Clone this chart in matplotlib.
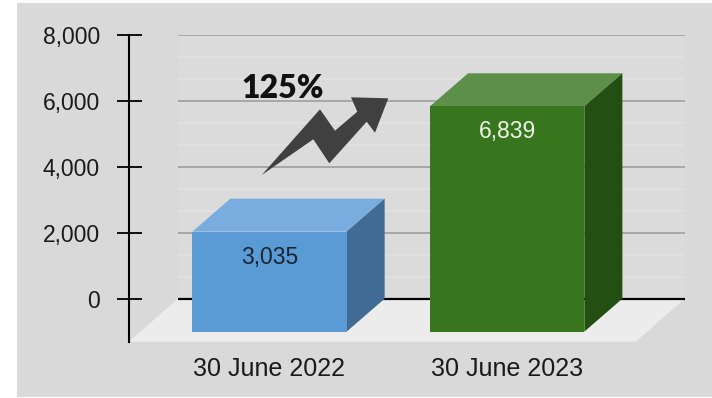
import numpy as np
import matplotlib
matplotlib.use("Agg")
import matplotlib.pyplot as plt
from matplotlib.patches import Polygon, Rectangle
from matplotlib.ticker import FuncFormatter
import matplotlib.transforms as mtransforms

categories = ["30 June 2022", "30 June 2023"]
values = [3035, 6839]
yticks = [0, 2000, 4000, 6000, 8000]

front_colors = ["#5b9bd5", "#38761d"]
top_colors = ["#79addf", "#5e8f4a"]
side_colors = ["#3f6b94", "#244f13"]
label_colors = ["#1b2431", "#eef4e8"]

W, H = 712, 398
fig = plt.figure(figsize=(W / 100, H / 100), dpi=100)
fig.patch.set_facecolor("white")
fig.patches.append(Rectangle((17 / W, 1 / H), (W - 17) / W, (H - 4) / H,
                             transform=fig.transFigure, facecolor="#d9d9d9",
                             edgecolor="none", zorder=-5))

# plot area: y axis at x=129px, back wall right edge at 685px
ax = fig.add_axes([129 / W, (H - 341.7) / H, (685 - 129) / W, (341.7 - 35) / H])
ax.set_zorder(1)
ax.set_facecolor("none")
ymin, ymax = -1305, 8000
ax.set_ylim(ymin, ymax)
xl, xr = -0.591, 1.748
ax.set_xlim(xl, xr)

# 3d depth offsets (data units)
dx, dy = 0.16, 1000
wall_x = -0.385
floor_dx = 0.208
w = 0.649

# back wall + gridlines
ax.add_patch(Rectangle((wall_x, 0), xr - wall_x, ymax, facecolor="#dbdbdb",
                       edgecolor="none", zorder=1, clip_on=False))
minor = [v for v in np.arange(0, 8001, 2000 / 3) if v > 1 and round(v) % 2000 != 0]
ax.hlines(minor, wall_x, xr, colors="#e2e2e2", linewidth=1.2, zorder=2)
ax.hlines(yticks[1:], wall_x, xr, colors="#a3a3a3", linewidth=1.3, zorder=2)

# floor
ax.add_patch(Polygon([(wall_x, 0), (xr, 0), (xr - floor_dx, ymin), (xl, ymin)],
                     closed=True, facecolor="#ececec", edgecolor="none", zorder=3,
                     clip_on=False))
ax.hlines(0, wall_x, xr, colors="black", linewidth=1.6, zorder=4)

# bars: front face via bar(), top and side faces as polygons
x = np.arange(len(values))
ax.bar(x, values, width=w, bottom=-dy, color=front_colors, zorder=6)
for i, v in enumerate(values):
    l, r = i - w / 2, i + w / 2
    ax.add_patch(Polygon([(l, v - dy), (r, v - dy), (r + dx, v), (l + dx, v)],
                         facecolor=top_colors[i], edgecolor="none", zorder=5))
    ax.add_patch(Polygon([(r, -dy), (r + dx, 0), (r + dx, v), (r, v - dy)],
                         facecolor=side_colors[i], edgecolor="none", zorder=5))
    ax.annotate(f"{v:,}", xy=(i, v - dy), xytext=(0, -18.5), textcoords="offset points",
                ha="center", va="center", fontsize=16.5, color=label_colors[i],
                family="Liberation Sans", zorder=7)

# axes styling
for s in ["top", "right", "bottom"]:
    ax.spines[s].set_visible(False)
ax.spines["left"].set_linewidth(1.5)
ax.spines["left"].set_zorder(8)
ax.set_yticks(yticks)
ax.yaxis.set_major_formatter(FuncFormatter(lambda v, p: f"{v:,.0f}"))
ax.tick_params(axis="y", direction="inout", length=18, width=1.3, pad=12,
               labelsize=16.5, labelcolor="#1a1a1a")
ax.set_xticks(x, categories)
ax.tick_params(axis="x", length=0, pad=11, labelsize=18, labelcolor="#1a1a1a")
for lab in ax.get_xticklabels() + ax.get_yticklabels():
    lab.set_family("Liberation Sans")

# growth arrow and percentage
growth = (values[1] / values[0] - 1) * 100
px = mtransforms.Affine2D().scale(1 / W, -1 / H).translate(0, 1) + fig.transFigure
arrow_pts = [(261.7, 175), (320, 109.3), (335, 130.7), (357.3, 111.7), (351, 97.3),
             (388.3, 98.3), (375, 132.7), (366.7, 121.7), (329.3, 163.3), (313.3, 139.3)]
fig.patches.append(Polygon(arrow_pts, closed=True, facecolor="#404040",
                           edgecolor="none", transform=px, zorder=10))
fig.text(283 / W, 1 - 89 / H, f"{growth:.0f}%", ha="center", va="center",
         fontsize=23, fontweight="heavy", family="Lato", color="#111111", zorder=10)

fig.savefig("out.png", dpi=100)
